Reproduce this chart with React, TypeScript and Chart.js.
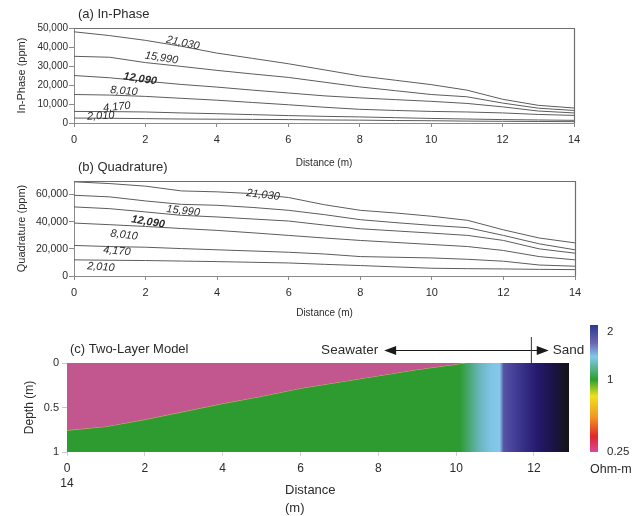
import { useEffect, useRef } from 'react';
import { Chart, registerables } from 'chart.js';
Chart.register(...registerables);

const FONT = "'Liberation Sans', Arial, Helvetica, sans-serif";

// ---------- data ----------
const distance = [0, 1, 2, 3, 4, 5, 6, 7, 8, 9, 10, 11, 12, 13, 14];
const curveLabels = ['2,010', '4,170', '8,010', '12,090', '15,990', '21,030'];
const xTicks = [0, 2, 4, 6, 8, 10, 12, 14];

// (a) In-Phase (ppm)
const ip2010 = [2600, 2500, 2300, 2100, 2000, 1900, 1800, 1600, 1500, 1300, 1200, 1000, 900, 800, 700];
const ip4170 = [6100, 6000, 5800, 5300, 4900, 4400, 3900, 3500, 3200, 2800, 2400, 2100, 1800, 1600, 1400];
const ip8010 = [15000, 14700, 14000, 13000, 12000, 10800, 9600, 8300, 7200, 6600, 6100, 5800, 5300, 4500, 4000];
const ip12090 = [25000, 23800, 22000, 20300, 18900, 17300, 15800, 14300, 13200, 12300, 11400, 10300, 8500, 6300, 5300];
const ip15990 = [35100, 34600, 31800, 29800, 27700, 25800, 24000, 21500, 19000, 17000, 15000, 13800, 10500, 7800, 6600];
const ip21030 = [48000, 46000, 43500, 40400, 36800, 34000, 31200, 28000, 24800, 22500, 20200, 17300, 12500, 9300, 7900];
const inPhaseTicks = [0, 10000, 20000, 30000, 40000, 50000];

// (b) Quadrature (ppm)
const q2010 = [11900, 11600, 11400, 11000, 10600, 10100, 9600, 8600, 7700, 6700, 5700, 5400, 5200, 4900, 4700];
const q4170 = [22500, 21700, 21200, 20200, 19300, 18400, 17500, 16200, 14300, 13800, 13300, 12300, 10900, 8100, 7200];
const q8010 = [39000, 37800, 36500, 35000, 33600, 31800, 29900, 28000, 26200, 24700, 23200, 21700, 18800, 14300, 11900];
const q12090 = [50900, 49600, 47200, 44700, 43500, 42000, 40500, 37500, 34800, 33200, 31600, 29900, 26200, 20000, 16800];
const q15990 = [59500, 58300, 55300, 52800, 52100, 50500, 48400, 45200, 41500, 39300, 37300, 35600, 29900, 23700, 19300];
const q21030 = [69400, 68100, 66200, 62700, 62000, 60700, 57800, 52500, 48400, 46400, 44000, 41000, 34000, 28000, 24400];
const quadTicks = [0, 20000, 40000, 60000];

// curve label anchors (distance, ppm, rotation deg)
const ipLabelX = [0.75, 1.2, 1.4, 1.85, 2.45, 3.05];
const ipLabelY = [3700, 8400, 16800, 23200, 34200, 42100];
const ipLabelRot = [-3, -6, 5, 9, 9, 12];
const qLabelX = [0.75, 1.2, 1.4, 2.07, 3.05, 5.28];
const qLabelY = [6600, 18400, 30200, 39800, 47900, 59700];
const qLabelRot = [4, 5, 7, 9, 7, 7];

// (c) two-layer model: interface depth (m) vs distance (m)
const modelX = [0, 1, 2, 3, 4, 5, 6, 7, 8, 9, 10, 10.3, 12.9];
const interfaceDepth = [0.76, 0.72, 0.64, 0.55, 0.46, 0.38, 0.29, 0.22, 0.15, 0.08, 0.02, 0, 0];
const modelXTicks = [0, 2, 4, 6, 8, 10, 12];
const depthTicks = [0, 0.5, 1];
const depthTickLabels = ['0', '0.5', '1'];
// lower-layer resistivity colour along distance
const lowerDist = [0, 10.1, 10.6, 10.9, 11.12, 11.22, 11.55, 12.1, 12.5, 12.9];
const lowerColor = ['#2e9b31', '#2e9b31', '#68b6bd', '#80c4e4', '#86c7ec', '#5654a4', '#403b94', '#24196b', '#1a1446', '#141414'];
// colour bar (top = 2 Ohm-m, bottom = 0.25 Ohm-m)
const cbStops = [0, 0.14, 0.25, 0.43, 0.56, 0.72, 0.88, 1];
const cbColors = ['#2a3a8e', '#6a66b2', '#82c8ec', '#2ba02e', '#f0e01c', '#f29a20', '#e2262a', '#d8489c'];
const cbLabels = ['2', '1', '0.25'];
const cbLabelFrac = [0.05, 0.43, 1];
const arrowFrom = 8.15;
const arrowTo = 12.38;
const boundaryAt = 11.92;

const TXT = '#2b2b2b';

function toPts(xs: number[], ys: number[]) {
  return xs.map((x, i) => ({ x, y: ys[i] }));
}

function lineDecor(title: string, lx: number[], ly: number[], lr: number[]) {
  return {
    id: 'decor',
    afterDraw(chart: any) {
      const { ctx, chartArea: a, scales } = chart;
      ctx.save();
      ctx.strokeStyle = '#6e6e6e';
      ctx.lineWidth = 1.2;
      ctx.beginPath();
      ctx.moveTo(a.left, a.top + 0.5);
      ctx.lineTo(a.right + 0.5, a.top + 0.5);
      ctx.lineTo(a.right + 0.5, a.bottom);
      ctx.stroke();
      ctx.fillStyle = TXT;
      ctx.textBaseline = 'middle';
      ctx.textAlign = 'left';
      ctx.font = `13px ${FONT}`;
      ctx.fillText(title, a.left + 4, a.top - 14);
      curveLabels.forEach((t, i) => {
        const px = scales.x.getPixelForValue(lx[i]);
        const py = scales.y.getPixelForValue(ly[i]);
        ctx.save();
        ctx.translate(px, py);
        ctx.rotate((lr[i] * Math.PI) / 180);
        ctx.textAlign = 'center';
        ctx.font = `italic ${t === '12,090' ? 'bold ' : ''}11px ${FONT}`;
        ctx.fillText(t, 0, 0);
        ctx.restore();
      });
      ctx.restore();
    },
  };
}

function lineConfig(opts: any) {
  const { series, yMax, yTicks, yTitle, area, xAxisH, xTickPad, xTitlePad, yTickSize, title, lx, ly, lr } = opts;
  return {
    type: 'line',
    data: {
      datasets: series.map((s: number[], i: number) => ({
        label: curveLabels[i],
        data: toPts(distance, s),
        borderColor: '#5c5c5c',
        borderWidth: 1,
        pointRadius: 0,
        fill: false,
        tension: 0,
      })),
    },
    options: {
      responsive: false,
      animation: false,
      events: [],
      layout: { padding: { left: 0, top: area.top, right: 637 - area.right, bottom: 516 - area.bottom - xAxisH } },
      plugins: { legend: { display: false }, tooltip: { enabled: false }, title: { display: false } },
      scales: {
        x: {
          type: 'linear',
          min: 0,
          max: 14,
          afterBuildTicks: (s: any) => { s.ticks = xTicks.map((v) => ({ value: v })); },
          afterFit: (s: any) => { s.height = xAxisH; },
          ticks: { font: { family: FONT, size: 11 }, color: TXT, padding: xTickPad, maxRotation: 0, minRotation: 0, autoSkip: false },
          grid: { drawOnChartArea: false, drawTicks: true, tickLength: 4, color: '#8a8a8a' },
          border: { display: true, color: '#8a8a8a', width: 1 },
          title: { display: true, text: 'Distance (m)', font: { family: FONT, size: 10 }, color: TXT, padding: { top: 0, bottom: xTitlePad } },
        },
        y: {
          type: 'linear',
          min: 0,
          max: yMax,
          afterBuildTicks: (s: any) => { s.ticks = yTicks.map((v: number) => ({ value: v })); },
          afterFit: (s: any) => { s.width = area.left; },
          ticks: {
            font: { family: FONT, size: yTickSize },
            color: TXT,
            padding: 1,
            callback: (v: number) => v.toLocaleString('en-US'),
          },
          grid: { drawOnChartArea: false, drawTicks: true, tickLength: 5, color: '#8a8a8a' },
          border: { display: true, color: '#8a8a8a', width: 1 },
          title: { display: true, text: yTitle, font: { family: FONT, size: 11 }, color: TXT, padding: { top: 15.4, bottom: 0 } },
        },
      },
    },
    plugins: [lineDecor(title, lx, ly, lr)],
  };
}

const modelDecor = {
  id: 'modelDecor',
  afterDraw(chart: any) {
    const { ctx, chartArea: a, scales } = chart;
    ctx.save();
    ctx.fillStyle = TXT;
    ctx.textBaseline = 'middle';
    ctx.textAlign = 'left';
    ctx.font = `13px ${FONT}`;
    ctx.fillText('(c) Two-Layer Model', a.left + 3, a.top - 14);
    // x axis title (left aligned two lines)
    ctx.fillText('Distance', a.left + 218, a.bottom + 38);
    ctx.fillText('(m)', a.left + 218, a.bottom + 56);
    // seawater / sand arrow
    const y = a.top - 13;
    const x1 = scales.x.getPixelForValue(arrowFrom);
    const x2 = scales.x.getPixelForValue(arrowTo);
    const xb = scales.x.getPixelForValue(boundaryAt);
    ctx.strokeStyle = '#1a1a1a';
    ctx.fillStyle = '#1a1a1a';
    ctx.lineWidth = 1;
    ctx.beginPath();
    ctx.moveTo(x1 + 10, y + 0.5);
    ctx.lineTo(x2 - 10, y + 0.5);
    ctx.stroke();
    ctx.beginPath();
    ctx.moveTo(x1, y + 0.5); ctx.lineTo(x1 + 12, y - 4); ctx.lineTo(x1 + 12, y + 5); ctx.closePath(); ctx.fill();
    ctx.beginPath();
    ctx.moveTo(x2, y + 0.5); ctx.lineTo(x2 - 12, y - 4); ctx.lineTo(x2 - 12, y + 5); ctx.closePath(); ctx.fill();
    ctx.strokeStyle = '#333';
    ctx.beginPath();
    ctx.moveTo(xb + 0.5, a.top - 26);
    ctx.lineTo(xb + 0.5, a.top);
    ctx.stroke();
    ctx.fillStyle = TXT;
    ctx.font = `13.5px ${FONT}`;
    ctx.textAlign = 'right';
    ctx.fillText('Seawater', x1 - 6, y);
    ctx.textAlign = 'left';
    ctx.fillText('Sand', x2 + 4, y);
    // colour bar
    const cbx = a.right + 21, cbw = 8, cbt = a.top - 38, cbb = a.bottom;
    const g = ctx.createLinearGradient(0, cbt, 0, cbb);
    cbStops.forEach((s, i) => g.addColorStop(s, cbColors[i]));
    ctx.fillStyle = g;
    ctx.fillRect(cbx, cbt, cbw, cbb - cbt);
    ctx.fillStyle = TXT;
    ctx.font = `11.5px ${FONT}`;
    ctx.textAlign = 'left';
    cbLabels.forEach((t, i) => {
      ctx.fillText(t, cbx + 17, cbt + cbLabelFrac[i] * (cbb - cbt));
    });
    ctx.font = `12.5px ${FONT}`;
    ctx.fillText('Ohm-m', cbx, cbb + 18);
    ctx.restore();
  },
};

function modelConfig() {
  const area = { left: 67, right: 569, top: 363, bottom: 452 };
  const xAxisH = 40;
  return {
    type: 'line',
    data: {
      datasets: [
        {
          label: 'Lower layer',
          data: toPts(modelX, interfaceDepth),
          borderWidth: 0,
          borderColor: 'rgba(0,0,0,0)',
          pointRadius: 0,
          tension: 0,
          fill: { value: 1 },
          backgroundColor: (c: any) => {
            const ch = c.chart;
            if (!ch.chartArea) return lowerColor[0];
            const x0 = ch.scales.x.getPixelForValue(0);
            const x1 = ch.scales.x.getPixelForValue(lowerDist[lowerDist.length - 1]);
            const g = ch.ctx.createLinearGradient(x0, 0, x1, 0);
            lowerDist.forEach((d, i) => g.addColorStop(d / lowerDist[lowerDist.length - 1], lowerColor[i]));
            return g;
          },
        },
        {
          label: 'Seawater layer',
          data: toPts(modelX, interfaceDepth),
          borderWidth: 1,
          borderColor: '#c9b25e',
          pointRadius: 0,
          tension: 0,
          fill: { value: 0 },
          backgroundColor: '#c2568f',
        },
      ],
    },
    options: {
      responsive: false,
      animation: false,
      events: [],
      layout: { padding: { left: 0, top: area.top, right: 637 - area.right, bottom: 516 - area.bottom - xAxisH } },
      plugins: { legend: { display: false }, tooltip: { enabled: false }, title: { display: false } },
      scales: {
        x: {
          type: 'linear',
          min: 0,
          max: 12.9,
          afterBuildTicks: (s: any) => { s.ticks = modelXTicks.map((v) => ({ value: v })); },
          afterFit: (s: any) => { s.height = xAxisH; },
          ticks: {
            font: { family: FONT, size: 12 },
            color: TXT,
            padding: 5.8,
            maxRotation: 0,
            minRotation: 0,
            autoSkip: false,
            callback: (v: number) => (v === 0 ? ['0', '14'] : String(v)),
          },
          grid: { drawOnChartArea: false, drawTicks: true, tickLength: 4, color: '#d0d0d0' },
          border: { display: false },
        },
        y: {
          type: 'linear',
          min: 0,
          max: 1,
          reverse: true,
          afterBuildTicks: (s: any) => { s.ticks = depthTicks.map((v) => ({ value: v })); },
          afterFit: (s: any) => { s.width = area.left; },
          ticks: {
            font: { family: FONT, size: 11 },
            color: TXT,
            padding: 3,
            callback: (v: number) => depthTickLabels[depthTicks.indexOf(v)] ?? String(v),
          },
          grid: { drawOnChartArea: false, drawTicks: true, tickLength: 5, color: '#c8c8c8' },
          border: { display: false },
          title: { display: true, text: 'Depth (m)', font: { family: FONT, size: 12 }, color: TXT, padding: { top: 22.8, bottom: 0 } },
        },
      },
    },
    plugins: [modelDecor],
  };
}

export default function App() {
  const refA = useRef<HTMLCanvasElement>(null);
  const refB = useRef<HTMLCanvasElement>(null);
  const refC = useRef<HTMLCanvasElement>(null);

  useEffect(() => {
    const charts: Chart[] = [];
    charts.push(
      new Chart(refA.current as HTMLCanvasElement, lineConfig({
        series: [ip2010, ip4170, ip8010, ip12090, ip15990, ip21030],
        yMax: 50000,
        yTicks: inPhaseTicks,
        yTitle: 'In-Phase (ppm)',
        area: { left: 74, right: 574, top: 28, bottom: 123 },
        xAxisH: 50,
        xTickPad: 6.4,
        xTitlePad: 4,
        yTickSize: 10,
        title: '(a) In-Phase',
        lx: ipLabelX, ly: ipLabelY, lr: ipLabelRot,
      }) as any)
    );
    charts.push(
      new Chart(refB.current as HTMLCanvasElement, lineConfig({
        series: [q2010, q4170, q8010, q12090, q15990, q21030],
        yMax: 70000,
        yTicks: quadTicks,
        yTitle: 'Quadrature (ppm)',
        area: { left: 74, right: 575, top: 181, bottom: 276 },
        xAxisH: 45,
        xTickPad: 6.1,
        xTitlePad: 2,
        yTickSize: 10.5,
        title: '(b) Quadrature)',
        lx: qLabelX, ly: qLabelY, lr: qLabelRot,
      }) as any)
    );
    charts.push(new Chart(refC.current as HTMLCanvasElement, modelConfig() as any));
    return () => charts.forEach((c) => c.destroy());
  }, []);

  const cs: any = { position: 'absolute', left: 0, top: 0 };
  return (
    <div style={{ position: 'absolute', left: 0, top: 0, width: 637, height: 516, background: '#fff', overflow: 'hidden' }}>
      <canvas ref={refA} width={637} height={516} style={cs} />
      <canvas ref={refB} width={637} height={516} style={cs} />
      <canvas ref={refC} width={637} height={516} style={cs} />
    </div>
  );
}
